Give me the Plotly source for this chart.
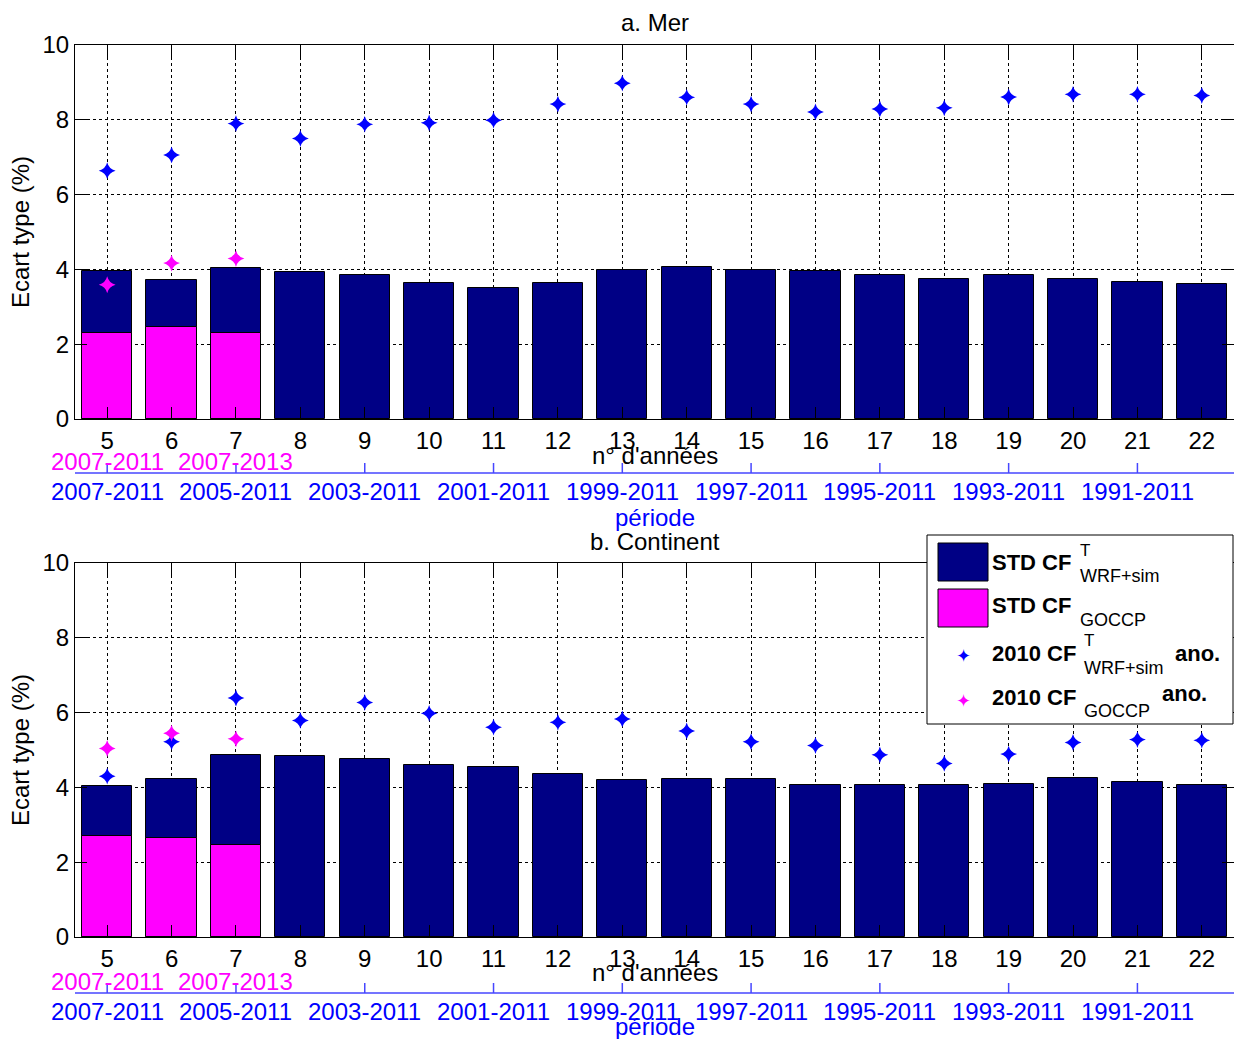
import plotly.graph_objects as go

# ---------------- data ----------------
n_annees = [5, 6, 7, 8, 9, 10, 11, 12, 13, 14, 15, 16, 17, 18, 19, 20, 21, 22]
periode_ticks = [5, 7, 9, 11, 13, 15, 17, 19, 21]
periode_labels = ["2007-2011", "2005-2011", "2003-2011", "2001-2011", "1999-2011",
                  "1997-2011", "1995-2011", "1993-2011", "1991-2011"]
goccp_ticks = [5, 7]
goccp_labels = ["2007-2011", "2007-2013"]
goccp_x = [5, 6, 7]

# a. Mer
mer_std_wrf = [3.97, 3.72, 4.04, 3.93, 3.85, 3.63, 3.49, 3.63, 3.99, 4.06, 3.99, 3.97,
               3.85, 3.75, 3.85, 3.75, 3.66, 3.60]
mer_std_goccp = [2.30, 2.46, 2.30]
mer_ano_wrf = [6.64, 7.06, 7.90, 7.50, 7.88, 7.92, 7.99, 8.42, 8.98, 8.60, 8.42, 8.21,
               8.29, 8.32, 8.61, 8.68, 8.68, 8.65]
mer_ano_goccp = [3.59, 4.17, 4.29]

# b. Continent
cont_std_wrf = [4.03, 4.22, 4.86, 4.83, 4.75, 4.61, 4.54, 4.36, 4.19, 4.22, 4.22, 4.07,
                4.07, 4.07, 4.10, 4.24, 4.15, 4.07]
cont_std_goccp = [2.71, 2.64, 2.46]
cont_ano_wrf = [4.30, 5.22, 6.39, 5.79, 6.27, 5.98, 5.61, 5.74, 5.83, 5.51, 5.22, 5.12,
                4.87, 4.64, 4.89, 5.20, 5.28, 5.26]
cont_ano_goccp = [5.04, 5.45, 5.30]

# ---------------- style ----------------
NAVY = "#000085"
PINK = "#FF00FF"
BLUE = "#0000FF"
LBLUE = "#4646FF"
FONT = "Liberation Sans, Arial, sans-serif"
FS = 24

W, H = 1234, 1039
ML, MR, MT, MB = 75, 0, 45, 102
PW, PH = W - ML - MR, H - MT - MB


def px(x):
    return (x - ML) / PW


def py(y):
    return (H - MB - y) / PH


fig = go.Figure()

panels = [
    ("x", "y", mer_std_wrf, mer_std_goccp, mer_ano_wrf, mer_ano_goccp),
    ("x2", "y2", cont_std_wrf, cont_std_goccp, cont_ano_wrf, cont_ano_goccp),
]
for xa, ya, sw, sg, aw, ag in panels:
    fig.add_trace(go.Bar(x=n_annees, y=sw, width=0.78, marker=dict(color=NAVY, line=dict(color="black", width=1)),
                         xaxis=xa, yaxis=ya, showlegend=False))
    fig.add_trace(go.Bar(x=goccp_x, y=sg, width=0.78, marker=dict(color=PINK, line=dict(color="black", width=1)),
                         xaxis=xa, yaxis=ya, showlegend=False))
    fig.add_trace(go.Scatter(x=n_annees, y=aw, mode="markers",
                             marker=dict(symbol="star-diamond", size=12, color=BLUE),
                             xaxis=xa, yaxis=ya, showlegend=False))
    fig.add_trace(go.Scatter(x=goccp_x, y=ag, mode="markers",
                             marker=dict(symbol="star-diamond", size=12, color=PINK),
                             xaxis=xa, yaxis=ya, showlegend=False))

xcommon = dict(range=[4.5, 22.5], tickvals=n_annees, ticks="inside", ticklen=12, tickcolor="black",
               showline=True, linecolor="black", linewidth=1, mirror="ticks",
               showgrid=True, gridcolor="black", griddash="dot", gridwidth=1,
               tickfont=dict(size=FS, color="black", family=FONT), zeroline=False)
ycommon = dict(range=[0, 10], tickvals=[0, 2, 4, 6, 8, 10], ticks="inside", ticklen=12, tickcolor="black",
               showline=True, linecolor="black", linewidth=1, mirror="ticks",
               showgrid=True, gridcolor="black", griddash="dot", gridwidth=1,
               tickfont=dict(size=FS, color="black", family=FONT), zeroline=False,
               title=dict(text="Ecart type (%)", font=dict(size=FS, color="black", family=FONT), standoff=6))

top_dom = [py(419), 1.0]
bot_dom = [0.0, py(563)]

fig.update_layout(
    width=W, height=H, margin=dict(l=ML, r=MR, t=MT, b=MB),
    paper_bgcolor="white", plot_bgcolor="white", barmode="overlay", bargap=0,
    font=dict(family=FONT, size=FS, color="black"),
    xaxis=dict(**xcommon, anchor="y", domain=[0, 1]),
    yaxis=dict(**ycommon, anchor="x", domain=top_dom),
    xaxis2=dict(**xcommon, anchor="y2", domain=[0, 1]),
    yaxis2=dict(**ycommon, anchor="x2", domain=bot_dom),
)

shapes = []
annots = []

# secondary "période" axes + labels
sec = [
    # xref, yref, line offset, blue label offset, pink offset, n° offset, période offset
    ("x", "y domain", 54, 72, 42, 36, 98),
    ("x2", "y2 domain", 56, 74, 44, 35, 89),
]
for xr, yr, lo, bo, po, no, peo in sec:
    shapes.append(dict(type="line", xref=xr, yref=yr, x0=4.5, x1=22.5, y0=-lo, y1=-lo,
                       ysizemode="pixel", yanchor=0, line=dict(color=LBLUE, width=1.5)))
    for t in periode_ticks:
        shapes.append(dict(type="line", xref=xr, yref=yr, x0=t, x1=t, ysizemode="pixel", yanchor=0,
                           y0=-lo, y1=-lo + 10, line=dict(color=LBLUE, width=1.5)))
    for t, lab in zip(periode_ticks, periode_labels):
        annots.append(dict(x=t, y=0, xref=xr, yref=yr, text=lab, showarrow=False, yanchor="middle",
                           xanchor="center", yshift=-bo, font=dict(size=FS, color=BLUE, family=FONT)))
    for t, lab in zip(goccp_ticks, goccp_labels):
        annots.append(dict(x=t, y=0, xref=xr, yref=yr, text=lab, showarrow=False, yanchor="middle",
                           xanchor="center", yshift=-po, font=dict(size=FS, color=PINK, family=FONT)))
    dom = xr + " domain"
    annots.append(dict(x=0.5, y=0, xref=dom, yref=yr, text="n° d'années", showarrow=False,
                       yanchor="middle", yshift=-no, font=dict(size=FS, color="black", family=FONT)))
    annots.append(dict(x=0.5, y=0, xref=dom, yref=yr, text="période", showarrow=False,
                       yanchor="middle", yshift=-peo, font=dict(size=FS, color=BLUE, family=FONT)))

# titles
annots.append(dict(x=0.5, y=1, xref="x domain", yref="y domain", text="a. Mer", showarrow=False,
                   yanchor="middle", yshift=23, font=dict(size=FS, color="black", family=FONT)))
annots.append(dict(x=0.5, y=1, xref="x2 domain", yref="y2 domain", text="b. Continent", showarrow=False,
                   yanchor="middle", yshift=22, font=dict(size=FS, color="black", family=FONT)))

# manual legend
shapes.append(dict(type="rect", xref="paper", yref="paper", x0=px(927), x1=px(1233), y0=py(724), y1=py(535),
                   fillcolor="white", line=dict(color="black", width=1), layer="above"))
shapes.append(dict(type="rect", xref="paper", yref="paper", x0=px(938), x1=px(988), y0=py(581), y1=py(543),
                   fillcolor=NAVY, line=dict(color="black", width=1), layer="above"))
shapes.append(dict(type="rect", xref="paper", yref="paper", x0=px(938), x1=px(988), y0=py(627), y1=py(589),
                   fillcolor=PINK, line=dict(color="black", width=1), layer="above"))


def lt(x, y, text, size, color="black"):
    annots.append(dict(x=px(x), y=py(y), xref="paper", yref="paper", text=text, showarrow=False,
                       xanchor="left", yanchor="middle", font=dict(size=size, color=color, family=FONT)))


lt(990, 562, "<b>STD CF</b>", 22)
lt(1078, 550, "T", 17)
lt(1078, 576, "WRF+sim", 18)
lt(990, 605, "<b>STD CF</b>", 22)
lt(1078, 620, "GOCCP", 18)
lt(990, 653, "<b>2010 CF</b>", 22)
lt(1082, 640, "T", 17)
lt(1082, 668, "WRF+sim", 18)
lt(1173, 653, "<b>ano.</b>", 22)
lt(990, 697, "<b>2010 CF</b>", 22)
lt(1082, 711, "GOCCP", 18)
lt(1160, 694, "<b>ano.</b>", 22)
annots.append(dict(x=px(963), y=py(655), xref="paper", yref="paper", text="✦", showarrow=False,
                   xanchor="center", yanchor="middle",
                   font=dict(size=18, color=BLUE, family="DejaVu Sans")))
annots.append(dict(x=px(963), y=py(700), xref="paper", yref="paper", text="✦", showarrow=False,
                   xanchor="center", yanchor="middle",
                   font=dict(size=18, color=PINK, family="DejaVu Sans")))

fig.update_layout(shapes=shapes, annotations=annots)
fig.write_html("out.html", config={"displayModeBar": False},
               post_script="document.body.style.margin='0';document.body.style.overflow='hidden';")
